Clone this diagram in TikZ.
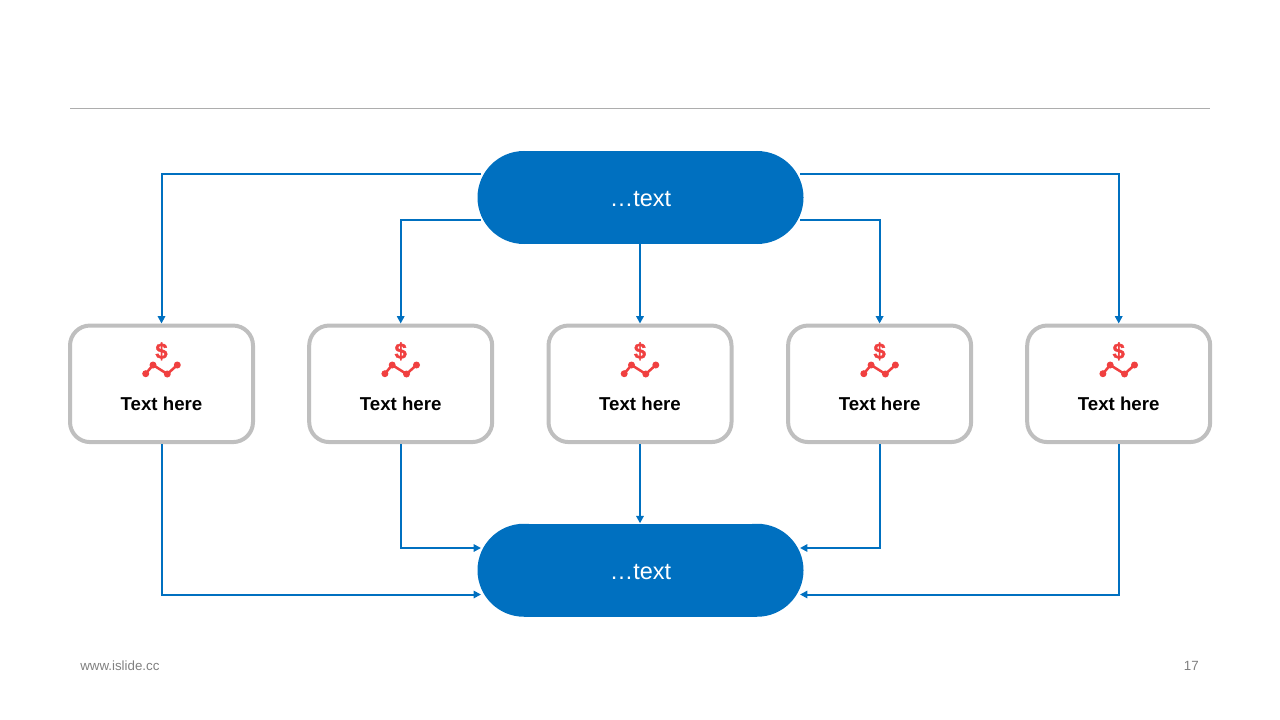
\documentclass[tikz,border=0pt]{standalone}
\usepackage{fontspec}
\setmainfont{Liberation Sans}
\newfontfamily\dollarfont[FakeBold=1.5]{Liberation Sans Bold}
\usetikzlibrary{arrows.meta}
\definecolor{mainblue}{HTML}{0070C0}
\definecolor{boxgrey}{HTML}{BFBFBF}
\definecolor{iconred}{HTML}{F04040}
\definecolor{footgrey}{HTML}{808080}
\tikzset{
  x=0.75pt,y=-0.75pt,
  pill/.style={rectangle,draw=none,minimum width=244.5pt,minimum height=70pt,inner sep=0pt,text=white,font=\fontsize{17.6}{22}\selectfont},
  card/.style={rectangle,rounded corners=15pt,draw=boxgrey,line width=3pt,fill=white,minimum width=137.25pt,minimum height=87.4pt,inner sep=0pt},
  cardtext/.style={font=\fontsize{14}{17}\selectfont\bfseries,text=black,inner sep=0pt},
  dollar/.style={font=\fontsize{16.5}{18}\dollarfont,text=iconred,inner sep=0pt},
  flow/.style={draw=mainblue,line width=1.5pt,line join=miter,-{Triangle[length=5.5pt,width=5.5pt]}},
  spark/.style={draw=iconred,line width=1.9pt},
  sparkdot/.style={fill=iconred,draw=none},
  foot/.style={font=\fontsize{10}{12}\selectfont,text=footgrey,inner sep=0pt}
}
\begin{document}
\begin{tikzpicture}
\useasboundingbox (0,0) rectangle (1280,720);
\coordinate (ruleL) at (70,108.5);
\coordinate (ruleR) at (1210,108.5);
\draw[draw=black!32,line width=0.75pt] (ruleL) -- (ruleR);

\node[card] (c1) at (161.5,383.8) {};
\node[card] (c2) at (400.7,383.8) {};
\node[card] (c3) at (640,383.8) {};
\node[card] (c4) at (879.6,383.8) {};
\node[card] (c5) at (1118.7,383.8) {};

\foreach \i/\cx in {1/161.5,2/400.7,3/640,4/879.6,5/1118.7}{
  \node[cardtext] (t\i) at (\cx,403.5) {Text here};
  \node[dollar] (d\i) at (\cx,351.3) {\$};
  \begin{scope}[shift={(\cx,0)}]
    \draw[spark] (-15.8,373.7) -- (-8.5,365) -- (5.8,374) -- (15.8,365);
    \foreach \px/\py in {-15.8/373.7,-8.5/365,5.8/374,15.8/365}
      \fill[sparkdot] (\px,\py) circle[radius=3.5];
  \end{scope}
}

\coordinate (tl1) at (481,174);
\coordinate (tl2) at (481,220);
\coordinate (tr1) at (800,174);
\coordinate (tr2) at (800,220);
\coordinate (bl1) at (481,548);
\coordinate (bl2) at (481,594.5);
\coordinate (br1) at (800,548);
\coordinate (br2) at (800,594.5);

\foreach \cy in {197.5,570.25}{
  \fill[mainblue] (524,\cy) circle[radius=46.5];
  \fill[mainblue] (757,\cy) circle[radius=46.5];
  \fill[mainblue] (524,\cy-46.5) rectangle (757,\cy+46.5);
}
\node[pill] (top) at (640.5,197.5) {\raisebox{-1.2pt}[\height][\depth]{…text}};
\node[pill] (bot) at (640.5,570.25) {\raisebox{-1.2pt}[\height][\depth]{…text}};

\draw[flow] (tl1) -| (c1.north);
\draw[flow] (tl2) -| (c2.north);
\draw[flow] (top.south -| c3.north) -- (c3.north);
\draw[flow] (tr2) -| (c4.north);
\draw[flow] (tr1) -| (c5.north);

\draw[flow] (c1.south) |- (bl2);
\draw[flow] (c2.south) |- (bl1);
\draw[flow] (c3.south) -- (bot.north -| c3.south);
\draw[flow] (c4.south) |- (br1);
\draw[flow] (c5.south) |- (br2);

\node[foot,anchor=west] (site) at (80,666) {www.islide.cc};
\node[foot,anchor=east] (page) at (1199,666) {17};
\end{tikzpicture}
\end{document}
